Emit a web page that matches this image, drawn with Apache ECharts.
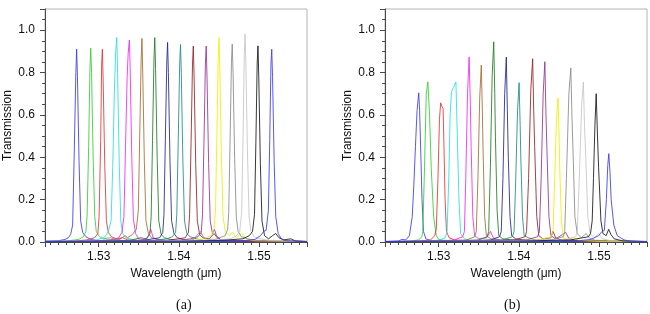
<!DOCTYPE html>
<html>
<head>
<meta charset="utf-8">
<script src="https://cdn.jsdelivr.net/npm/echarts@6/dist/echarts.min.js"></script>
<style>
html,body{margin:0;padding:0;background:#fff;}
#main{width:650px;height:314px;}
</style>
</head>
<body>
<div id="main"></div>
<script>
// axis ranges / labels
var xMin = 1.5233, xMax = 1.556;
var yMax = 1.1;
var xName = 'Wavelength (\u03bcm)';
var yName = 'Transmission';
var captions = ['(a)', '(b)'];

// channel colours, same order in both panels
var channelColors = ['#3b3bea', '#33cc33', '#e23434', '#22e0e0', '#f028f0', '#a36b33', '#217a21', '#23238f',
    '#1d8a8a', '#922222', '#933393', '#eeee00', '#8a8a8a', '#c6c6c6', '#151515', '#3b3bea'];

// ---- panel (a) : [wavelength (um), transmission]
var a01 = [[1.5233,0.004],[1.5250,0.006],[1.5258,0.012],[1.5262,0.02],[1.5265,0.035],[1.52675,0.08],[1.52695,0.42],[1.52715,0.80],[1.52725,0.91],[1.52735,0.78],[1.52755,0.38],[1.52775,0.10],[1.5280,0.045],[1.5284,0.025],[1.5290,0.012],[1.5300,0.006],[1.5320,0.01],[1.5340,0.004],[1.5400,0.003],[1.5500,0.002],[1.5560,0.002]];
var a02 = [[1.5233,0.003],[1.5260,0.005],[1.5275,0.012],[1.5281,0.025],[1.5284,0.05],[1.52855,0.12],[1.52875,0.45],[1.52891,0.82],[1.52901,0.915],[1.52911,0.80],[1.52931,0.40],[1.52951,0.12],[1.5297,0.05],[1.5300,0.03],[1.5305,0.015],[1.5315,0.02],[1.5322,0.008],[1.5360,0.004],[1.5450,0.003],[1.5560,0.002]];
var a03 = [[1.5233,0.002],[1.5270,0.004],[1.5285,0.01],[1.5295,0.02],[1.5299,0.04],[1.53005,0.12],[1.53025,0.48],[1.53037,0.84],[1.53046,0.91],[1.53056,0.76],[1.53076,0.36],[1.53096,0.10],[1.5312,0.045],[1.5316,0.025],[1.5322,0.015],[1.5330,0.02],[1.5336,0.01],[1.5380,0.004],[1.5560,0.002]];
var a04 = [[1.5233,0.003],[1.5280,0.004],[1.5298,0.01],[1.5308,0.025],[1.5312,0.05],[1.53155,0.10],[1.53175,0.35],[1.53195,0.70],[1.53212,0.90],[1.53226,0.965],[1.53236,0.80],[1.53256,0.38],[1.53276,0.10],[1.5330,0.04],[1.5334,0.02],[1.5342,0.012],[1.5350,0.006],[1.5400,0.003],[1.5560,0.002]];
var a05 = [[1.5233,0.003],[1.5290,0.004],[1.5315,0.01],[1.5325,0.02],[1.5329,0.045],[1.53315,0.12],[1.53335,0.45],[1.53355,0.78],[1.53368,0.89],[1.53383,0.953],[1.53393,0.82],[1.53413,0.40],[1.53433,0.11],[1.5346,0.04],[1.5350,0.015],[1.5358,0.01],[1.5362,0.03],[1.5365,0.06],[1.5368,0.02],[1.5375,0.008],[1.5420,0.003],[1.5560,0.002]];
var a06 = [[1.5233,0.002],[1.5300,0.004],[1.5325,0.01],[1.5333,0.03],[1.5336,0.02],[1.5342,0.035],[1.5347,0.06],[1.53495,0.15],[1.53512,0.50],[1.53530,0.86],[1.53540,0.961],[1.53550,0.80],[1.53570,0.38],[1.53590,0.10],[1.5362,0.04],[1.5366,0.02],[1.5374,0.012],[1.5385,0.006],[1.5450,0.003],[1.5560,0.002]];
var a07 = [[1.5233,0.002],[1.5310,0.004],[1.5340,0.008],[1.5352,0.02],[1.5360,0.015],[1.5364,0.04],[1.53655,0.12],[1.53672,0.48],[1.53690,0.86],[1.53700,0.965],[1.53710,0.82],[1.53730,0.40],[1.53750,0.10],[1.5378,0.035],[1.5382,0.02],[1.5390,0.012],[1.5400,0.006],[1.5460,0.003],[1.5560,0.002]];
var a08 = [[1.5233,0.002],[1.5320,0.003],[1.5355,0.008],[1.5368,0.015],[1.5376,0.02],[1.5380,0.045],[1.53815,0.13],[1.53832,0.48],[1.53850,0.85],[1.53860,0.942],[1.53870,0.80],[1.53890,0.38],[1.53910,0.10],[1.5394,0.04],[1.5398,0.02],[1.5406,0.012],[1.5416,0.006],[1.5480,0.003],[1.5560,0.002]];
var a09 = [[1.5233,0.002],[1.5330,0.003],[1.5370,0.008],[1.5385,0.015],[1.5392,0.025],[1.5396,0.045],[1.53975,0.13],[1.53993,0.48],[1.54011,0.84],[1.54021,0.932],[1.54031,0.80],[1.54051,0.38],[1.54071,0.10],[1.5410,0.04],[1.5414,0.025],[1.5422,0.015],[1.5432,0.006],[1.5490,0.003],[1.5560,0.002]];
var a10 = [[1.5233,0.002],[1.5340,0.003],[1.5385,0.008],[1.5400,0.015],[1.5408,0.02],[1.5412,0.045],[1.54135,0.13],[1.54153,0.47],[1.54171,0.84],[1.54181,0.925],[1.54191,0.78],[1.54211,0.37],[1.54231,0.10],[1.5426,0.035],[1.5430,0.02],[1.5438,0.015],[1.5444,0.04],[1.5448,0.02],[1.5455,0.006],[1.5500,0.003],[1.5560,0.002]];
var a11 = [[1.5233,0.002],[1.5350,0.003],[1.5400,0.008],[1.5415,0.015],[1.5424,0.025],[1.5428,0.045],[1.54296,0.13],[1.54314,0.47],[1.54332,0.84],[1.54342,0.925],[1.54352,0.78],[1.54372,0.37],[1.54392,0.10],[1.5442,0.04],[1.54444,0.06],[1.5447,0.03],[1.5452,0.012],[1.5462,0.006],[1.5560,0.002]];
var a12 = [[1.5233,0.002],[1.5360,0.003],[1.5415,0.008],[1.5432,0.015],[1.5440,0.03],[1.5444,0.06],[1.54458,0.15],[1.54475,0.50],[1.54492,0.87],[1.54502,0.965],[1.54512,0.82],[1.54532,0.40],[1.54552,0.12],[1.5458,0.05],[1.5463,0.03],[1.5467,0.045],[1.5472,0.02],[1.5478,0.04],[1.5484,0.015],[1.5495,0.006],[1.5560,0.003]];
var a13 = [[1.5233,0.002],[1.5370,0.003],[1.5418,0.01],[1.54268,0.05],[1.5432,0.015],[1.5445,0.012],[1.5458,0.03],[1.5461,0.06],[1.54623,0.14],[1.54640,0.48],[1.54657,0.85],[1.54667,0.934],[1.54677,0.80],[1.54697,0.40],[1.54717,0.12],[1.5474,0.05],[1.5478,0.025],[1.5486,0.015],[1.5496,0.008],[1.5560,0.003]];
var a14 = [[1.5233,0.002],[1.5380,0.003],[1.5440,0.008],[1.5465,0.015],[1.5472,0.03],[1.5476,0.05],[1.54785,0.14],[1.54802,0.50],[1.54817,0.88],[1.54827,0.981],[1.54837,0.84],[1.54857,0.42],[1.54877,0.12],[1.5490,0.05],[1.5494,0.025],[1.5502,0.015],[1.5512,0.008],[1.5560,0.003]];
var a15 = [[1.5233,0.002],[1.5400,0.003],[1.5455,0.008],[1.5480,0.015],[1.5488,0.03],[1.5492,0.05],[1.54945,0.13],[1.54962,0.47],[1.54978,0.84],[1.54988,0.926],[1.54998,0.78],[1.55018,0.37],[1.55038,0.10],[1.5507,0.03],[1.5512,0.015],[1.5517,0.03],[1.5521,0.04],[1.5525,0.02],[1.5531,0.01],[1.5540,0.015],[1.5545,0.005],[1.5560,0.002]];
var a16 = [[1.5233,0.002],[1.5420,0.003],[1.5480,0.006],[1.5495,0.012],[1.5502,0.03],[1.5506,0.05],[1.5509,0.055],[1.55118,0.15],[1.55135,0.48],[1.55150,0.84],[1.55160,0.91],[1.55170,0.78],[1.55190,0.38],[1.55210,0.12],[1.5524,0.04],[1.5528,0.015],[1.5534,0.006],[1.5560,0.002]];

// ---- panel (b)
var b01 = [[1.5233,0.003],[1.5250,0.005],[1.5254,0.012],[1.5259,0.01],[1.52635,0.03],[1.52670,0.12],[1.52690,0.27],[1.52710,0.45],[1.52730,0.62],[1.52751,0.704],[1.52762,0.62],[1.52778,0.40],[1.52792,0.20],[1.52810,0.05],[1.5284,0.015],[1.5290,0.006],[1.5310,0.004],[1.5560,0.002]];
var b02 = [[1.5233,0.002],[1.5265,0.004],[1.5275,0.01],[1.52790,0.025],[1.52802,0.05],[1.52823,0.35],[1.52845,0.70],[1.52865,0.756],[1.52886,0.60],[1.52907,0.35],[1.52937,0.12],[1.52970,0.03],[1.5300,0.012],[1.5306,0.008],[1.5330,0.004],[1.5560,0.002]];
var b03 = [[1.5233,0.002],[1.5275,0.004],[1.5290,0.01],[1.52950,0.03],[1.52970,0.06],[1.52991,0.30],[1.53010,0.58],[1.53025,0.657],[1.53040,0.64],[1.53055,0.63],[1.53066,0.45],[1.53080,0.20],[1.53097,0.05],[1.5313,0.02],[1.5320,0.01],[1.5340,0.004],[1.5560,0.002]];
var b04 = [[1.5233,0.002],[1.5290,0.004],[1.5302,0.01],[1.53080,0.02],[1.53105,0.05],[1.53126,0.30],[1.53143,0.60],[1.53160,0.71],[1.53185,0.73],[1.53215,0.755],[1.53236,0.45],[1.53253,0.20],[1.53274,0.04],[1.5332,0.015],[1.5340,0.008],[1.5370,0.004],[1.5560,0.002]];
var b05 = [[1.5233,0.002],[1.5300,0.004],[1.5320,0.01],[1.53300,0.025],[1.53321,0.05],[1.53338,0.30],[1.53360,0.70],[1.53380,0.873],[1.53395,0.65],[1.53405,0.45],[1.53426,0.12],[1.53448,0.03],[1.5350,0.015],[1.5360,0.02],[1.53646,0.05],[1.5368,0.02],[1.5378,0.006],[1.5560,0.002]];
var b06 = [[1.5233,0.002],[1.5310,0.004],[1.5335,0.01],[1.53450,0.025],[1.53469,0.05],[1.53490,0.30],[1.53512,0.68],[1.53532,0.835],[1.53545,0.62],[1.53553,0.45],[1.53574,0.12],[1.53595,0.03],[1.5365,0.015],[1.5375,0.008],[1.5400,0.004],[1.5560,0.002]];
var b07 = [[1.5233,0.002],[1.5320,0.004],[1.5350,0.01],[1.53605,0.025],[1.53624,0.05],[1.53645,0.35],[1.53667,0.78],[1.53687,0.945],[1.53700,0.70],[1.53708,0.50],[1.53729,0.15],[1.53750,0.03],[1.5380,0.015],[1.5390,0.01],[1.5420,0.004],[1.5560,0.002]];
var b08 = [[1.5233,0.002],[1.5330,0.004],[1.5365,0.01],[1.53760,0.025],[1.53781,0.05],[1.53802,0.30],[1.53824,0.70],[1.53844,0.873],[1.53857,0.62],[1.53869,0.40],[1.53890,0.12],[1.53911,0.03],[1.5396,0.015],[1.5405,0.01],[1.5430,0.004],[1.5560,0.002]];
var b09 = [[1.5233,0.002],[1.5340,0.004],[1.5380,0.01],[1.53920,0.025],[1.53941,0.05],[1.53962,0.30],[1.53984,0.62],[1.54004,0.752],[1.54017,0.55],[1.54025,0.40],[1.54046,0.12],[1.54067,0.03],[1.5412,0.02],[1.5420,0.01],[1.5440,0.004],[1.5560,0.002]];
var b10 = [[1.5233,0.002],[1.5350,0.004],[1.5395,0.01],[1.54080,0.025],[1.54097,0.05],[1.54122,0.30],[1.54150,0.72],[1.54173,0.865],[1.54186,0.62],[1.54198,0.45],[1.54224,0.12],[1.54249,0.03],[1.5430,0.015],[1.5440,0.02],[1.54427,0.05],[1.5446,0.02],[1.5455,0.006],[1.5560,0.002]];
var b11 = [[1.5233,0.002],[1.5360,0.004],[1.5410,0.01],[1.54235,0.025],[1.54257,0.05],[1.54279,0.30],[1.54304,0.70],[1.54325,0.851],[1.54338,0.62],[1.54350,0.45],[1.54376,0.12],[1.54401,0.03],[1.5446,0.015],[1.54586,0.045],[1.5462,0.02],[1.5470,0.006],[1.5560,0.002]];
var b12 = [[1.5233,0.002],[1.5370,0.004],[1.5425,0.01],[1.54405,0.025],[1.54427,0.05],[1.54448,0.30],[1.54470,0.58],[1.54490,0.68],[1.54503,0.50],[1.54511,0.35],[1.54532,0.10],[1.54553,0.02],[1.5460,0.012],[1.5468,0.02],[1.5475,0.008],[1.5500,0.003],[1.5560,0.002]];
var b13 = [[1.5233,0.002],[1.5380,0.004],[1.5440,0.01],[1.54555,0.025],[1.54573,0.05],[1.54594,0.30],[1.54625,0.70],[1.54649,0.822],[1.54663,0.60],[1.54679,0.40],[1.54700,0.12],[1.54729,0.04],[1.5478,0.02],[1.5484,0.04],[1.5488,0.02],[1.5495,0.008],[1.5560,0.003]];
var b14 = [[1.5233,0.002],[1.5390,0.004],[1.5455,0.01],[1.54710,0.025],[1.54730,0.05],[1.54755,0.30],[1.54785,0.65],[1.54806,0.755],[1.54820,0.55],[1.54836,0.40],[1.54861,0.12],[1.54890,0.04],[1.5494,0.02],[1.5500,0.04],[1.5504,0.015],[1.5515,0.006],[1.5560,0.002]];
var b15 = [[1.5233,0.002],[1.5400,0.004],[1.5465,0.01],[1.54870,0.025],[1.54895,0.04],[1.54916,0.10],[1.54932,0.30],[1.54950,0.55],[1.54966,0.70],[1.54982,0.50],[1.54996,0.35],[1.55025,0.10],[1.55050,0.04],[1.55090,0.03],[1.55122,0.06],[1.55150,0.035],[1.55190,0.015],[1.5530,0.005],[1.5560,0.002]];
var b16 = [[1.5233,0.002],[1.5420,0.003],[1.5475,0.006],[1.5490,0.012],[1.54997,0.03],[1.55039,0.05],[1.55068,0.055],[1.55093,0.20],[1.55110,0.36],[1.55123,0.417],[1.55138,0.33],[1.55153,0.20],[1.55186,0.08],[1.55228,0.03],[1.55313,0.01],[1.55397,0.003],[1.5560,0.002]];

var panelA = [a01, a02, a03, a04, a05, a06, a07, a08, a09, a10, a11, a12, a13, a14, a15, a16];
var panelB = [b01, b02, b03, b04, b05, b06, b07, b08, b09, b10, b11, b12, b13, b14, b15, b16];

var axisColor = '#4a4a4a';
var sans = 'Liberation Sans, Arial, sans-serif';

function makeX(idx) {
    return {
        gridIndex: idx, type: 'value', min: xMin, max: xMax, splitNumber: 3,
        axisLine: { lineStyle: { color: axisColor, width: 1 } },
        axisTick: { length: 5, lineStyle: { color: axisColor } },
        minorTick: { show: true, splitNumber: 10, length: 3, lineStyle: { color: axisColor } },
        splitLine: { show: false },
        axisLabel: { showMinLabel: false, showMaxLabel: false, margin: 9, fontSize: 12, color: '#111', fontFamily: sans,
            formatter: function (v) { return v.toFixed(2); } },
        name: xName, nameLocation: 'middle', nameGap: 26,
        nameTextStyle: { fontSize: 12, color: '#111', fontFamily: sans }
    };
}
function makeY(idx) {
    return {
        gridIndex: idx, type: 'value', min: 0, max: yMax, interval: 0.2,
        axisLine: { lineStyle: { color: axisColor, width: 1 } },
        axisTick: { length: 5, lineStyle: { color: axisColor } },
        minorTick: { show: true, splitNumber: 4, length: 3, lineStyle: { color: axisColor } },
        splitLine: { show: false },
        axisLabel: { showMaxLabel: false, margin: 10, fontSize: 12, color: '#111', fontFamily: sans,
            formatter: function (v) { return v.toFixed(1); } },
        name: yName, nameLocation: 'middle', nameGap: 31,
        nameTextStyle: { fontSize: 12, color: '#111', fontFamily: sans }
    };
}

var series = [];
function addPanel(list, idx) {
    for (var i = 0; i < list.length; i++) {
        series.push({
            type: 'line', xAxisIndex: idx, yAxisIndex: idx, data: list[i],
            symbol: 'none', silent: true,
            lineStyle: { width: 1, color: channelColors[i], opacity: 0.85 }
        });
    }
}
addPanel(panelA, 0);
addPanel(panelB, 1);

var chart = echarts.init(document.getElementById('main'));
chart.setOption({
    animation: false,
    backgroundColor: '#fff',
    grid: [
        { left: 45, top: 9, width: 262, height: 233, show: true, borderColor: '#b4b4b4', borderWidth: 1 },
        { left: 385, top: 9, width: 262, height: 233, show: true, borderColor: '#b4b4b4', borderWidth: 1 }
    ],
    xAxis: [makeX(0), makeX(1)],
    yAxis: [makeY(0), makeY(1)],
    graphic: [
        { type: 'text', left: 176, top: 298, style: { text: captions[0], font: '14px "Liberation Serif", serif', fill: '#111' } },
        { type: 'text', left: 504, top: 298, style: { text: captions[1], font: '14px "Liberation Serif", serif', fill: '#111' } }
    ],
    series: series
});
</script>
</body>
</html>
